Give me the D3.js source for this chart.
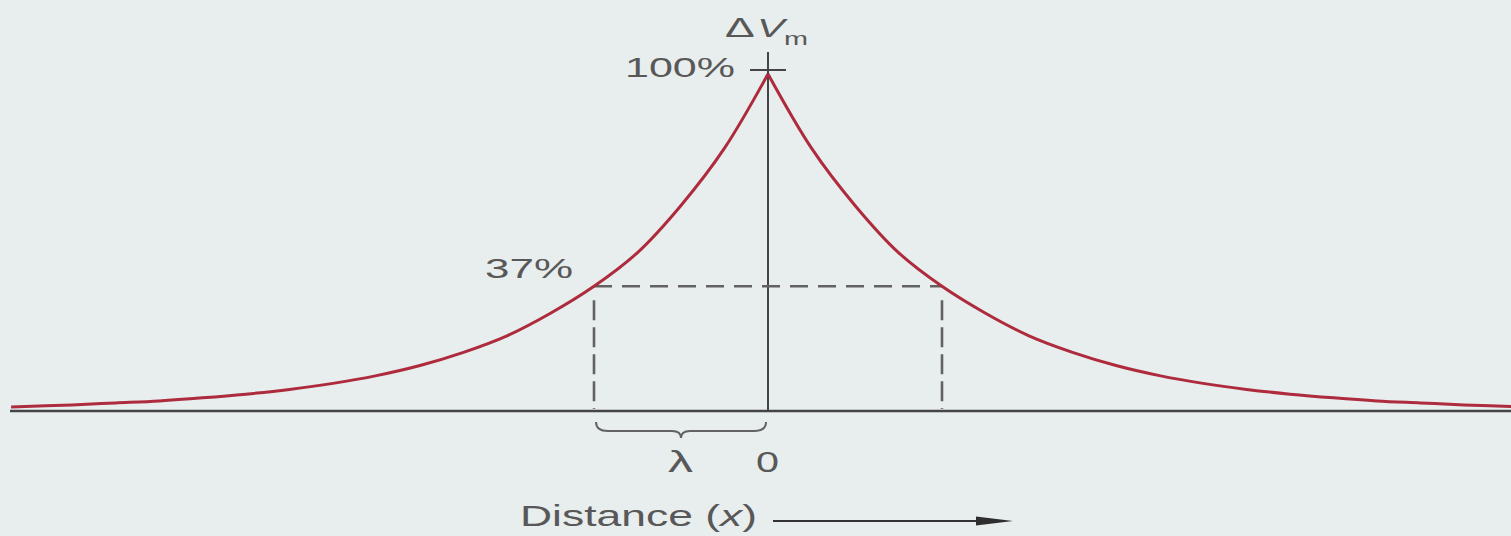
<!DOCTYPE html>
<html>
<head>
<meta charset="utf-8">
<script src="https://cdn.jsdelivr.net/npm/d3@7"></script>
<style>
  html, body { margin: 0; padding: 0; background: #e8eded; }
  svg { display: block; }
  text { font-family: "Liberation Sans", "DejaVu Sans", sans-serif; fill: #585858; }
</style>
</head>
<body>
<svg id="chart" width="1511" height="536"></svg>
<script>
// Distance from the injection site, in length constants (λ)
const distances = [0, 0.25, 0.5, 0.75, 1, 1.25, 1.5, 1.75, 2, 2.25, 2.5, 2.75, 3, 3.25, 3.5, 3.75, 4, 4.35];
// Membrane potential change, % of the value at x = 0
const potential = [100, 78, 61, 47, 37, 29, 22.3, 17.4, 13.5, 10.5, 8.2, 6.4, 5, 3.9, 3, 2.4, 1.8, 1.2];
// Reference levels marked on the vertical axis
const levelLabels = ["100%", "37%"];
const levelValues = [100, 37];
// Labels under the horizontal axis
const xTickLabels = ["λ", "0"];
const xTickValues = [-0.5, 0];

const svg = d3.select("#chart");

const x = d3.scaleLinear().domain([-1, 1]).range([594, 942]);
const y = d3.scaleLinear().domain([0, 100]).range([411, 74]);

const red = "#ad2b3c";
const axisColor = "#454545";
const dashColor = "#626262";

// Horizontal distance axis
svg.append("line")
  .attr("x1", 10).attr("x2", 1511)
  .attr("y1", y(0)).attr("y2", y(0))
  .attr("stroke", axisColor).attr("stroke-width", 2.4);

// Vertical ΔVm axis with the 100% tick
svg.append("line")
  .attr("x1", x(0)).attr("x2", x(0))
  .attr("y1", 52).attr("y2", y(0))
  .attr("stroke", axisColor).attr("stroke-width", 2);
svg.append("line")
  .attr("x1", x(0) - 18).attr("x2", x(0) + 18)
  .attr("y1", 70).attr("y2", 70)
  .attr("stroke", axisColor).attr("stroke-width", 2);

// Dashed guides at one length constant (37%)
const dash = svg.append("g")
  .attr("stroke", dashColor).attr("stroke-width", 2.6).attr("fill", "none");
dash.append("line")
  .attr("x1", x(-1)).attr("x2", x(1))
  .attr("y1", y(levelValues[1])).attr("y2", y(levelValues[1]))
  .attr("stroke-dasharray", "18 10");
[-1, 1].forEach(d => {
  dash.append("line")
    .attr("x1", x(d)).attr("x2", x(d))
    .attr("y1", y(levelValues[1]) + 14).attr("y2", y(0) - 2)
    .attr("stroke-dasharray", "20 7");
});

// Exponential decay on each side of the origin
const line = d3.line()
  .x(d => x(d[0]))
  .y(d => y(d[1]))
  .curve(d3.curveCatmullRom.alpha(0.5));
const right = distances.map((d, i) => [d, potential[i]]);
const left = distances.map((d, i) => [-d, potential[i]]).reverse();
[left, right].forEach(branch => {
  svg.append("path")
    .datum(branch)
    .attr("d", line)
    .attr("fill", "none")
    .attr("stroke", red)
    .attr("stroke-width", 3);
});

// Text helper: wide geometric lettering, stretched to a set width
function label(parent, str, x0, baseline, size, width) {
  return parent.append("text")
    .attr("x", x0).attr("y", baseline)
    .attr("font-size", size)
    .attr("textLength", width)
    .attr("lengthAdjust", "spacingAndGlyphs")
    .text(str);
}

// Level labels
label(svg, levelLabels[0], 625, 77, 27, 110);
label(svg, levelLabels[1], 485, 278, 27, 88);

// ΔVm axis title
label(svg, "Δ", 725, 37, 21, 22).style("font-size", "21px").attr("transform", "translate(725,37) scale(1.35) translate(-725,-37)");
label(svg, "V", 757, 37, 21, 23).attr("font-style", "italic").attr("transform", "translate(757,37) scale(1.2) translate(-757,-37)");
label(svg, "m", 784, 45, 18, 24);

// Brace spanning one length constant
const bx0 = x(-1) + 2, bx1 = x(0) - 2, by = 422, bm = (bx0 + bx1) / 2;
svg.append("path")
  .attr("d", `M${bx0},${by} Q${bx0},${by + 9} ${bx0 + 12},${by + 9} L${bm - 9},${by + 9} Q${bm},${by + 9} ${bm},${by + 16} Q${bm},${by + 9} ${bm + 9},${by + 9} L${bx1 - 12},${by + 9} Q${bx1},${by + 9} ${bx1},${by}`)
  .attr("fill", "none").attr("stroke", dashColor).attr("stroke-width", 2);

// Tick labels under the axis
const tickWidths = [25, 23];
xTickValues.forEach((d, i) => {
  label(svg, xTickLabels[i], (d < 0 ? 668 : x(d) - 12), 472, 29, tickWidths[i]);
});

// Distance caption with arrow
const cap = svg.append("text")
  .attr("x", 520).attr("y", 526)
  .attr("font-size", 30)
  .attr("textLength", 237)
  .attr("lengthAdjust", "spacingAndGlyphs");
cap.append("tspan").text("Distance (");
cap.append("tspan").attr("font-style", "italic").text("x");
cap.append("tspan").text(")");

svg.append("line")
  .attr("x1", 773).attr("x2", 985)
  .attr("y1", 521).attr("y2", 521)
  .attr("stroke", "#333").attr("stroke-width", 2);
svg.append("path")
  .attr("d", "M976,516.5 L1013,521 L976,525.5 Z")
  .attr("fill", "#2e2e2e");
</script>
</body>
</html>
